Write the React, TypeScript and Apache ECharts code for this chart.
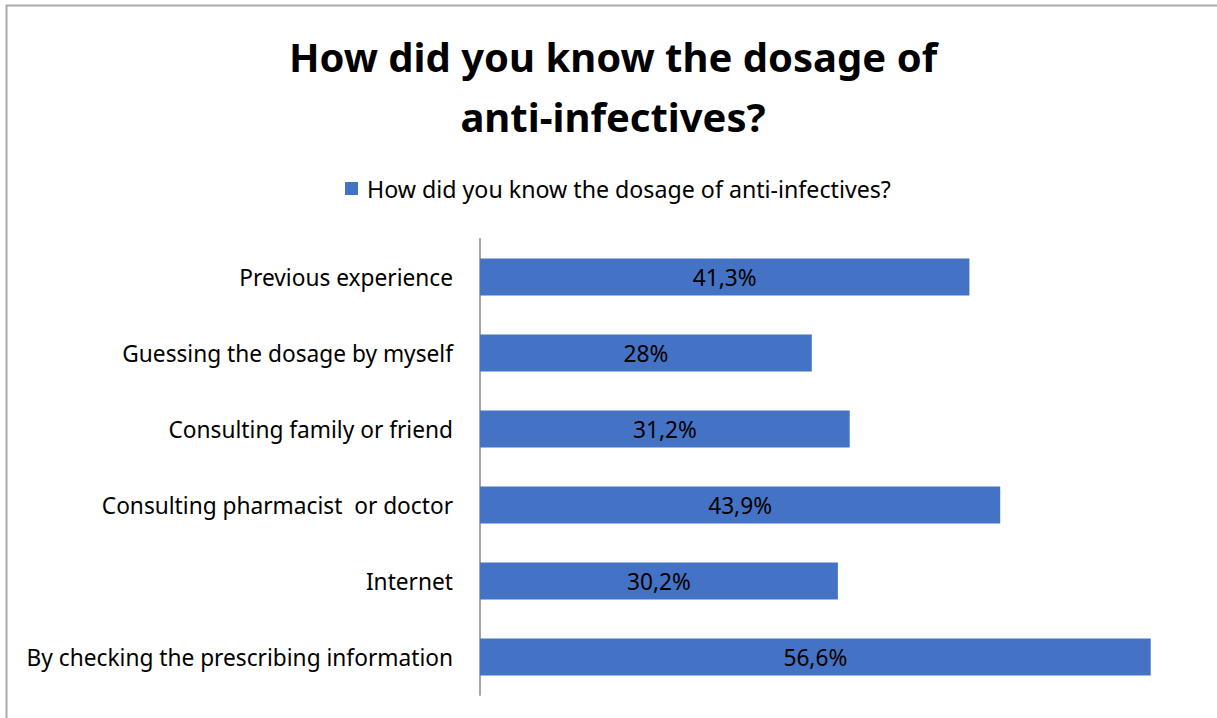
import React, { useEffect, useRef } from "react";
import * as echarts from "echarts";

const titleText = "How did you know the dosage of\nanti-infectives?";
const seriesName = "How did you know the dosage of anti-infectives?";
const categories = [
  "Previous experience",
  "Guessing the dosage by myself",
  "Consulting family or friend",
  "Consulting pharmacist  or doctor",
  "Internet",
  "By checking the prescribing information",
];
const values = [41.3, 28, 31.2, 43.9, 30.2, 56.6];

const FONT = "'Noto Sans', 'Open Sans', sans-serif";

export default function App() {
  const ref = useRef<HTMLDivElement>(null);
  useEffect(() => {
    const chart = echarts.init(ref.current!, null, { renderer: "svg" });
    chart.setOption({
      animation: false,
      backgroundColor: "#ffffff",
      title: {
        text: titleText,
        left: 608,
        textAlign: "center",
        top: 21,
        textStyle: {
          fontFamily: FONT,
          fontSize: 40,
          fontWeight: "bold",
          color: "#000000",
          lineHeight: 60,
        },
      },
      legend: {
        top: 172,
        left: 340,
        itemWidth: 13,
        itemHeight: 13,
        itemGap: 10,
        icon: "rect",
        textStyle: { fontFamily: FONT, fontSize: 23.2, color: "#000000", padding: [0, 0, 0, 4] },
        data: [seriesName],
      },
      graphic: [
        {
          type: "rect",
          shape: { x: 6.5, y: 5.5, width: 1300, height: 800 },
          style: { fill: "none", stroke: "#AAAAAA", lineWidth: 2 },
          silent: true,
        },
      ],
      grid: { left: 480, top: 239, width: 711, height: 456, containLabel: false },
      xAxis: {
        type: "value",
        min: 0,
        max: 60,
        show: false,
      },
      yAxis: {
        type: "category",
        inverse: true,
        data: categories,
        axisLine: { show: true, lineStyle: { color: "#A6A6A6", width: 2 } },
        axisTick: { show: false },
        axisLabel: {
          fontFamily: FONT,
          fontSize: 22.7,
          color: "#000000",
          margin: 27,
        },
      },
      series: [
        {
          name: seriesName,
          type: "bar",
          data: values,
          barCategoryGap: "51%",
          itemStyle: { color: "#4472C4" },
          label: {
            show: true,
            position: "inside",
            fontFamily: FONT,
            fontSize: 22.7,
            color: "#000000",
            formatter: (p: any) => String(p.value).replace(".", ",") + "%",
          },
        },
      ],
    });
    return () => chart.dispose();
  }, []);
  return (
    <div
      ref={ref}
      style={{ position: "absolute", left: 0, top: 0, width: 1217, height: 718 }}
    />
  );
}
